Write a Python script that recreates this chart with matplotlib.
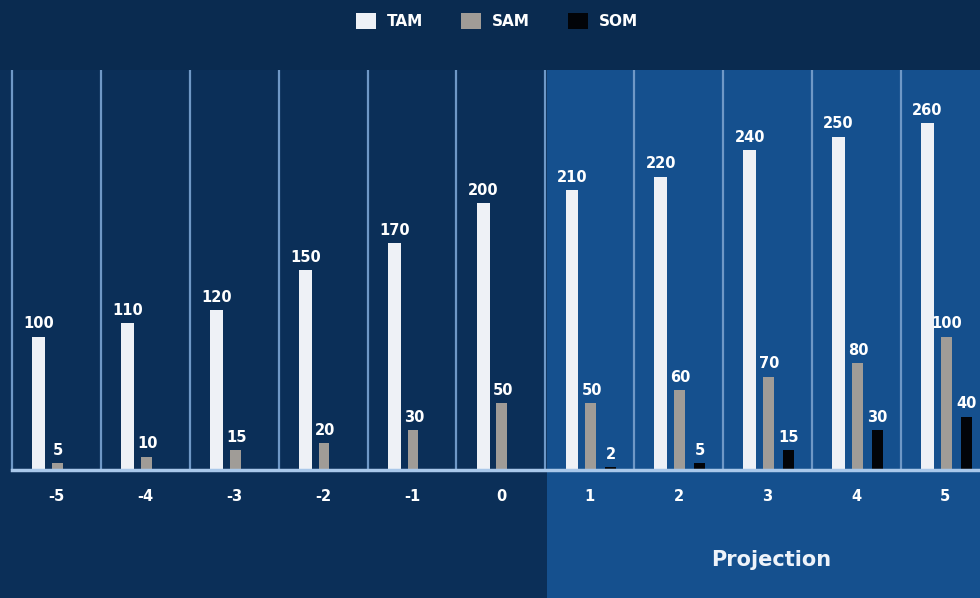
import numpy as np
import matplotlib
matplotlib.use("Agg")
import matplotlib.pyplot as plt
from matplotlib.patches import Patch, Rectangle

# data
years = ["-5", "-4", "-3", "-2", "-1", "0", "1", "2", "3", "4", "5"]
tam = [100, 110, 120, 150, 170, 200, 210, 220, 240, 250, 260]
sam = [5, 10, 15, 20, 30, 50, 50, 60, 70, 80, 100]
som = [0, 0, 0, 0, 0, 0, 2, 5, 15, 30, 40]

DARK = "#0b2f58"
HEAD = "#0a2b50"
PROJ = "#15508e"
LINE = "#6f98c6"
BASE = "#a9c8ea"
C_TAM, C_SAM, C_SOM = "#eef1f6", "#a09c97", "#020408"

W, H = 980, 598
fig = plt.figure(figsize=(W / 100, H / 100), dpi=100)
fig.patch.set_facecolor(DARK)

# background panels (figure pixel coords -> fractions)
fig.patches.append(Rectangle((0, 1 - 70 / H), 1, 70 / H, transform=fig.transFigure,
                             facecolor=HEAD, edgecolor="none", zorder=0))
fig.patches.append(Rectangle((547 / W, 0), 1 - 547 / W, 1 - 70 / H, transform=fig.transFigure,
                             facecolor=PROJ, edgecolor="none", zorder=0))

ax = fig.add_axes([0, (H - 470) / H, 1, 400 / H])
ax.set_zorder(2)
ax.set_facecolor("none")
ax.patch.set_alpha(0)
x = np.arange(len(years))
ax.set_xlim(-0.636, 10.39)
ax.set_ylim(0, 300)

ax.bar(x - 0.2, tam, 0.145, color=C_TAM, zorder=3)
ax.bar(x + 0.01, sam, 0.12, color=C_SAM, zorder=3)
ax.bar(x + 0.235, som, 0.125, color=C_SOM, zorder=3)

lab = dict(ha="center", va="bottom", color="white", fontsize=10.5, fontweight="bold", zorder=4)
for i in range(len(years)):
    ax.text(x[i] - 0.2, tam[i] + 4, str(tam[i]), **lab)
    ax.text(x[i] + 0.02, sam[i] + 4, str(sam[i]), **lab)
    if som[i] > 0:
        ax.text(x[i] + 0.235, som[i] + 4, str(som[i]), **lab)

# separators between the year bands
for b in np.arange(-0.5, len(years) - 0.5, 1.0):
    ax.axvline(b, color=LINE, lw=1.6, zorder=1)
ax.plot([-0.5, 10.39], [0, 0], color=BASE, lw=2.5, zorder=5, clip_on=False)

for s in ax.spines.values():
    s.set_visible(False)
ax.set_yticks([])
ax.set_xticks(x)
ax.set_xticklabels(years, color="white", fontsize=10.5, fontweight="bold")
ax.tick_params(axis="x", length=0, pad=14)

fig.text(771 / W, 1 - 560 / H, "Projection", ha="center", va="center",
         color="#eef3fa", fontsize=15, fontweight="bold", zorder=3)

handles = [Patch(facecolor=C_TAM, label="TAM"), Patch(facecolor=C_SAM, label="SAM"),
           Patch(facecolor=C_SOM, label="SOM")]
fig.legend(handles=handles, loc="center", bbox_to_anchor=(497 / W, 1 - 21 / H), ncol=3,
           frameon=False, handlelength=1.3, handleheight=1.3, handletextpad=0.7,
           columnspacing=2.5, prop=dict(weight="bold", size=11), labelcolor="white")

fig.savefig("out.png", dpi=100, facecolor=fig.get_facecolor())
